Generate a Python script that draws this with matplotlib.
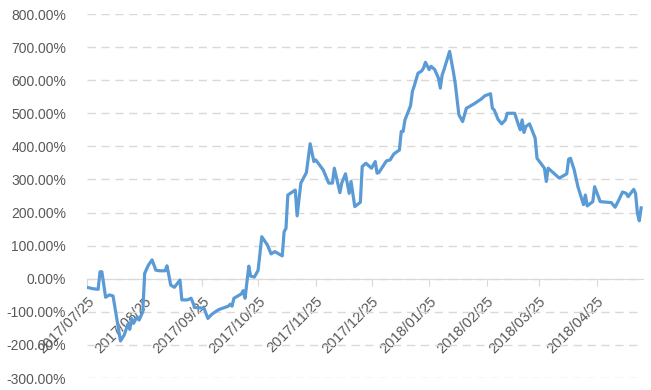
import matplotlib
matplotlib.use("Agg")
import matplotlib.pyplot as plt
import matplotlib.dates as mdates
import matplotlib.ticker as mticker
import pandas as pd

dates = [
    "2017-07-25", "2017-07-28", "2017-07-31", "2017-08-01", "2017-08-02", "2017-08-04",
    "2017-08-06", "2017-08-08", "2017-08-12", "2017-08-14", "2017-08-16", "2017-08-17",
    "2017-08-18", "2017-08-19", "2017-08-21", "2017-08-22", "2017-08-24", "2017-08-25",
    "2017-08-27", "2017-08-29", "2017-08-31", "2017-09-02", "2017-09-05", "2017-09-06",
    "2017-09-07", "2017-09-08", "2017-09-10", "2017-09-13", "2017-09-14", "2017-09-17",
    "2017-09-19", "2017-09-21", "2017-09-24", "2017-09-26", "2017-09-28", "2017-09-30",
    "2017-10-02", "2017-10-04", "2017-10-09", "2017-10-10", "2017-10-11", "2017-10-12",
    "2017-10-16", "2017-10-17", "2017-10-18", "2017-10-20", "2017-10-21", "2017-10-23",
    "2017-10-25", "2017-10-27", "2017-10-30", "2017-11-01", "2017-11-03", "2017-11-07",
    "2017-11-08", "2017-11-09", "2017-11-10", "2017-11-14", "2017-11-15", "2017-11-17",
    "2017-11-20", "2017-11-22", "2017-11-24", "2017-11-25", "2017-11-27", "2017-11-29",
    "2017-12-02", "2017-12-04", "2017-12-05", "2017-12-08", "2017-12-09", "2017-12-11",
    "2017-12-13", "2017-12-14", "2017-12-16", "2017-12-19", "2017-12-20", "2017-12-22",
    "2017-12-25", "2017-12-27", "2017-12-28", "2017-12-29", "2018-01-02", "2018-01-04",
    "2018-01-06", "2018-01-09", "2018-01-10", "2018-01-11", "2018-01-12", "2018-01-15",
    "2018-01-16", "2018-01-17", "2018-01-19", "2018-01-21", "2018-01-22", "2018-01-23",
    "2018-01-25", "2018-01-26", "2018-01-28", "2018-01-30", "2018-01-31", "2018-02-01",
    "2018-02-02", "2018-02-05", "2018-02-07", "2018-02-08", "2018-02-10", "2018-02-12",
    "2018-02-14", "2018-02-18", "2018-02-22", "2018-02-24", "2018-02-27", "2018-02-28",
    "2018-03-01", "2018-03-03", "2018-03-05", "2018-03-07", "2018-03-08", "2018-03-12",
    "2018-03-14", "2018-03-15", "2018-03-16", "2018-03-17", "2018-03-18", "2018-03-20",
    "2018-03-23", "2018-03-24", "2018-03-26", "2018-03-28", "2018-03-29", "2018-03-30",
    "2018-04-02", "2018-04-05", "2018-04-09", "2018-04-10", "2018-04-11", "2018-04-13",
    "2018-04-15", "2018-04-18", "2018-04-19", "2018-04-20", "2018-04-23", "2018-04-24",
    "2018-04-27", "2018-05-03", "2018-05-05", "2018-05-07", "2018-05-09", "2018-05-11",
    "2018-05-12", "2018-05-15", "2018-05-16", "2018-05-17", "2018-05-18", "2018-05-19",
]
returns = [
    -26, -30, -32, 21, 21, -56,
    -49, -52, -188, -170, -137, -153,
    -120, -135, -115, -125, -100, 16,
    41, 57, 26, 24, 24, 39,
    11, -19, -26, -4, -64, -64,
    -59, -87, -88, -90, -120, -108,
    -100, -93, -83, -77, -83, -59,
    -46, -36, -59, 38, 8, 5,
    25, 127, 102, 75, 82, 69,
    142, 152, 253, 268, 190, 289,
    321, 408, 354, 359, 344, 329,
    289, 289, 334, 260, 289, 317,
    258, 294, 218, 231, 339, 349,
    334, 354, 319, 321, 356, 359,
    377, 389, 445, 445, 480, 523,
    566, 583, 621, 628, 637, 654,
    632, 642, 632, 606, 576, 616,
    632, 687, 626, 591, 495, 475,
    515, 528, 543, 553, 559, 515,
    510, 482, 468, 480, 500, 500,
    465, 450, 480, 442, 460, 468,
    425, 364, 349, 334, 294, 334,
    319, 304, 317, 361, 364, 329,
    278, 224, 253, 220, 233, 278,
    233, 230, 216, 238, 262, 258,
    248, 270, 258, 198, 175, 214,
]
tick_dates = ["2017-07-25", "2017-08-25", "2017-09-25", "2017-10-25", "2017-11-25",
              "2017-12-25", "2018-01-25", "2018-02-25", "2018-03-25", "2018-04-25"]

plt.rcParams['font.family'] = ['Liberation Sans', 'DejaVu Sans']

x = pd.to_datetime(dates)
start = pd.Timestamp("2017-07-25")

fig = plt.figure(figsize=(6.51, 3.90), dpi=100)
ax = fig.add_axes([87 / 651, 12 / 390, 556 / 651, 364 / 390])

ax.plot(x, returns, color='#5B9BD5', linewidth=2.3, solid_joinstyle='round', zorder=3)

ax.set_ylim(-300, 800)
ax.set_xlim(start, start + pd.Timedelta(days=299))
ax.yaxis.set_major_locator(mticker.MultipleLocator(100))
ax.yaxis.set_major_formatter(mticker.FuncFormatter(lambda v, p: "%.2f%%" % v))
ax.grid(axis='y', color='#d9d9d9', linestyle=(0, (6, 4)), linewidth=1.0)
ax.set_axisbelow(True)

for s in ['top', 'right', 'left']:
    ax.spines[s].set_visible(False)
ax.spines['bottom'].set_position(('data', 0))
ax.spines['bottom'].set_color('#d9d9d9')
ax.spines['bottom'].set_zorder(2)

ax.set_xticks(pd.to_datetime(tick_dates))
ax.xaxis.set_major_formatter(mdates.DateFormatter('%Y/%m/%d'))
ax.tick_params(axis='x', direction='out', length=5, color='#d9d9d9',
               labelcolor='#595959', labelsize=10.5, pad=6)
ax.tick_params(axis='y', length=0, labelcolor='#595959', labelsize=10, pad=15)
for lab in ax.get_xticklabels():
    lab.set_rotation(45)
    lab.set_ha('right')
    lab.set_va('top')
    lab.set_rotation_mode('anchor')

fig.savefig("out.png", dpi=100)
